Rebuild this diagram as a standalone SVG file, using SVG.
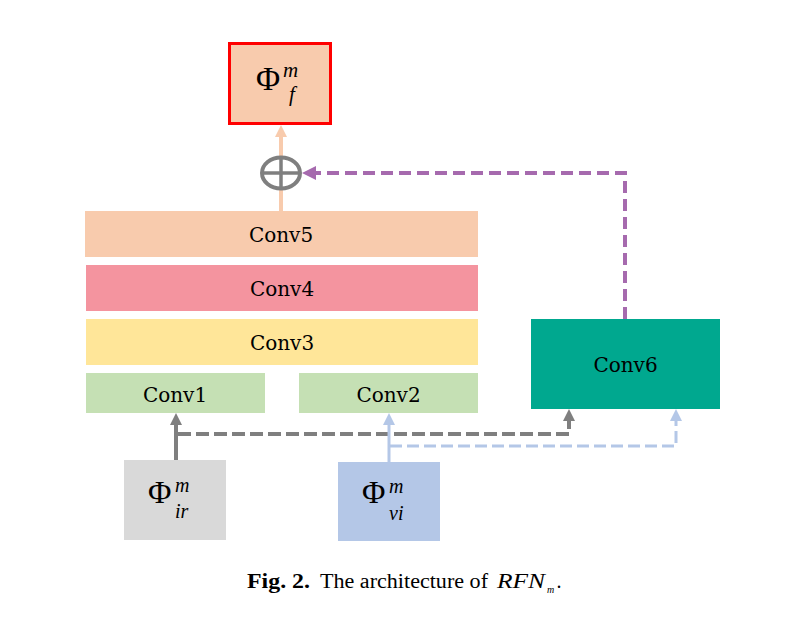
<svg xmlns="http://www.w3.org/2000/svg" width="795" height="622" viewBox="0 0 795 622">
<style>
.lbl{font-family:"DejaVu Serif","Liberation Serif",serif;font-size:20px;fill:#000;text-anchor:middle}
.math{font-family:"Liberation Serif","DejaVu Serif",serif;fill:#000}
.it{font-style:italic}
.cap{font-family:"Liberation Serif","DejaVu Serif",serif;fill:#000}
</style>
<defs>
<marker id="aGray" markerUnits="userSpaceOnUse" markerWidth="12" markerHeight="12" refX="0" refY="6" orient="auto"><path d="M0,0 L12,6 L0,12 z" fill="#7F7F7F"/></marker>
<marker id="aBlue" markerUnits="userSpaceOnUse" markerWidth="12" markerHeight="12" refX="0" refY="6" orient="auto"><path d="M0,0 L12,6 L0,12 z" fill="#B4C7E7"/></marker>
<marker id="aOrange" markerUnits="userSpaceOnUse" markerWidth="12" markerHeight="12" refX="0" refY="6" orient="auto"><path d="M0,0 L12,6 L0,12 z" fill="#F8CBAD"/></marker>
<marker id="aPurple" markerUnits="userSpaceOnUse" markerWidth="14" markerHeight="14" refX="0" refY="7" orient="auto"><path d="M0,0 L14,7 L0,14 z" fill="#A66AAE"/></marker>
</defs>
<rect width="795" height="622" fill="#fff"/>

<g id="connectors" fill="none">
<line x1="281" y1="211" x2="281" y2="137" stroke="#F8CBAD" stroke-width="4" marker-end="url(#aOrange)"/>
<polyline points="625,319 625,173 316,173" stroke="#A66AAE" stroke-width="4" stroke-dasharray="12,6" marker-end="url(#aPurple)"/>
<line x1="176" y1="460" x2="176" y2="425" stroke="#7F7F7F" stroke-width="4" marker-end="url(#aGray)"/>
<polyline points="178,434 569,434 569,421" stroke="#7F7F7F" stroke-width="4" stroke-dasharray="13,5" marker-end="url(#aGray)"/>
<line x1="389" y1="462" x2="389" y2="425" stroke="#B4C7E7" stroke-width="3" marker-end="url(#aBlue)"/>
<polyline points="390,446 676,446 676,421" stroke="#B4C7E7" stroke-width="3" stroke-dasharray="12,5" marker-end="url(#aBlue)"/>
</g>

<g id="oplus">
<ellipse cx="281" cy="173" rx="19" ry="15.5" fill="#fff" stroke="#7F7F7F" stroke-width="4"/>
<line x1="264" y1="173" x2="298" y2="173" stroke="#7F7F7F" stroke-width="3.5"/>
<line x1="281" y1="159" x2="281" y2="187" stroke="#7F7F7F" stroke-width="3.5"/>
</g>

<g id="out">
<rect x="229.5" y="43.5" width="101" height="80" fill="#F8CBAD" stroke="#FF0000" stroke-width="3"/>
<text class="math" x="256" y="90" font-size="33">Φ</text>
<text class="math it" x="283" y="77" font-size="21">m</text>
<text class="math it" x="289" y="101" font-size="21">f</text>
</g>

<g id="conv5"><rect x="85" y="211" width="393" height="46" fill="#F8CBAD"/><text class="lbl" x="281" y="242">Conv5</text></g>
<g id="conv4"><rect x="86" y="265" width="392" height="46" fill="#F4949F"/><text class="lbl" x="282" y="296">Conv4</text></g>
<g id="conv3"><rect x="86" y="319" width="392" height="46" fill="#FFE699"/><text class="lbl" x="282" y="350">Conv3</text></g>
<g id="conv1"><rect x="86" y="373" width="179" height="40" fill="#C5E0B4"/><text class="lbl" x="175" y="402">Conv1</text></g>
<g id="conv2"><rect x="299" y="373" width="179" height="40" fill="#C5E0B4"/><text class="lbl" x="388.5" y="402">Conv2</text></g>
<g id="conv6"><rect x="531" y="319" width="189" height="90" fill="#00A88F"/><text class="lbl" x="625.5" y="372">Conv6</text></g>

<g id="ir">
<rect x="124" y="460" width="102" height="80" fill="#D9D9D9"/>
<text class="math" x="148" y="503" font-size="32">Φ</text>
<text class="math it" x="175" y="492" font-size="20">m</text>
<text class="math it" x="175" y="518" font-size="20">ir</text>
</g>

<g id="vi">
<rect x="338" y="462" width="102" height="79" fill="#B4C7E7"/>
<text class="math" x="362" y="503" font-size="32">Φ</text>
<text class="math it" x="389" y="493" font-size="20">m</text>
<text class="math it" x="389" y="520" font-size="20">vi</text>
</g>

<g id="caption">
<text class="cap" x="247" y="588" font-size="20" font-weight="bold" textLength="63" lengthAdjust="spacingAndGlyphs">Fig. 2.</text>
<text class="cap" x="320" y="588" font-size="20" textLength="168" lengthAdjust="spacingAndGlyphs">The architecture of</text>
<text class="cap it" x="497" y="588" font-size="20" textLength="48" lengthAdjust="spacingAndGlyphs">RFN</text>
<text class="cap it" x="547" y="593" font-size="10">m</text>
<text class="cap" x="556.5" y="588" font-size="20">.</text>
</g>
</svg>
